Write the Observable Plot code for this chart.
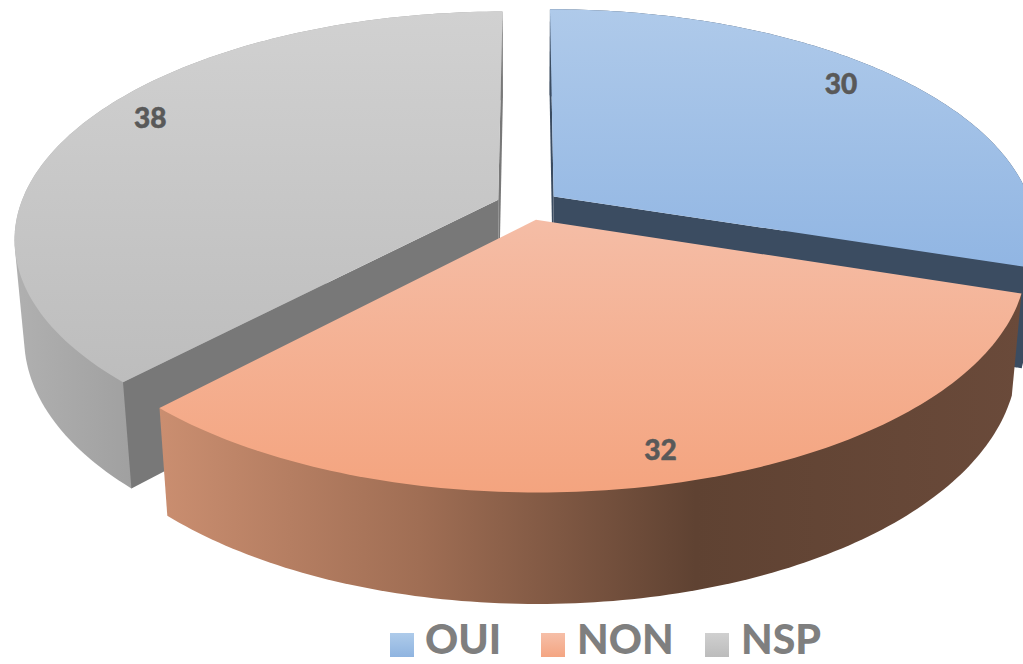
<!DOCTYPE html>
<html><head><meta charset="utf-8">
<script src="https://cdn.jsdelivr.net/npm/d3@7"></script>
<script src="https://cdn.jsdelivr.net/npm/@observablehq/plot@0.6"></script>
<style>
html,body{margin:0;padding:0;background:#fff;overflow:hidden}
#chart svg{display:block}
#legend{position:relative;height:54px;width:1023px;font:900 41px Lato,sans-serif;color:#7f7f7f}
#legend .sw{position:absolute;top:23px;width:24px;height:24px}
#legend .tx{position:absolute;top:4px;line-height:normal;white-space:nowrap}
</style></head><body>
<div id="chart"></div>
<div id="legend"></div>
<script>
// ---- data
const categories = ["OUI", "NON", "NSP"];
const values = [30, 32, 38];
const labelAngles = [49.7, 165.9, 297];
const labelRadii = [0.875, 0.892, 0.88];
const drawOrder = [0, 2, 1];
const swatchColors = [["#aecbea","#8fb4e0"],["#f6bfa8","#f4a582"],["#d0d0d0","#bcbcbc"]];
const innerWallColors = ["#3b4c61", "#5f4232", "#787878"];
const legendSwatchX = [390, 541, 705];
const legendTextX = [425, 577, 741];

// ---- 3D view of the disc
const W = 1023, H = 610;
const cx = 527.4, cy = 204.7, A = 478, B = 221.5, k = 0.168, m = 0.0187, depth = 99, explode = 0.067;
const rad = d => d * Math.PI / 180;
const total = d3.sum(values);
const ends = d3.cumsum(values).map(v => v / total * 360);
const slices = categories.map((name, i) => {
  const a0 = i ? ends[i - 1] : 0, a1 = ends[i], mid = (a0 + a1) / 2;
  return {i, name, value: values[i], a0, a1, ox: explode * Math.sin(rad(mid)), oy: -explode * Math.cos(rad(mid))};
});
function proj(s, angle, r, z) {
  const u = s.ox + r * Math.sin(rad(angle)), v = s.oy - r * Math.cos(rad(angle));
  const f = 1 / (1 - k * v + m * z);
  return {x: cx + A * u * f, y: cy + (B * v + depth * z) * f};
}
const arc = (s, z) => d3.range(0, 121).map(t => s.a0 + (s.a1 - s.a0) * t / 120).map(t => proj(s, t, 1, z));
const topFace = s => [proj(s, 0, 0, 0), ...arc(s, 0), proj(s, 0, 0, 0)];
// the extruded rim: its outline is the hull of both rims, so the silhouette is a straight tangent
const outerWall = s => {
  const hull = d3.polygonHull([...arc(s, 0), ...arc(s, 1)].map(p => [p.x, p.y]));
  return [...hull, hull[0]].map(([x, y]) => ({x, y}));
};
const innerWall = (s, a) => [proj(s, a, 0, 0), proj(s, a, 1, 0), proj(s, a, 1, 1), proj(s, a, 0, 1)];
// a cut face is seen only when it turns towards the viewer
const faces = (s, a) => {
  const q = innerWall(s, a);
  const c = (q[1].x - q[0].x) * (q[2].y - q[1].y) - (q[1].y - q[0].y) * (q[2].x - q[1].x);
  return a === s.a0 ? c < 0 : c > 0;
};

const poly = (pts, fill) => Plot.line(pts, {x: "x", y: "y", fill, stroke: "none"});
const marks = [];
marks.push(() => {
  const ns = "http://www.w3.org/2000/svg";
  const defs = document.createElementNS(ns, "defs");
  const grad = (id, x1, y1, x2, y2, stops) => {
    const g = document.createElementNS(ns, "linearGradient");
    g.setAttribute("id", id);
    g.setAttribute("gradientUnits", "userSpaceOnUse");
    Object.entries({x1, y1, x2, y2}).forEach(([a, b]) => g.setAttribute(a, b));
    stops.forEach(([o, c]) => {
      const st = document.createElementNS(ns, "stop");
      st.setAttribute("offset", o); st.setAttribute("stop-color", c); g.appendChild(st);
    });
    defs.appendChild(g);
  };
  grad("top0", 0, 8, 0, 300, [[0, "#afcaea"], [1, "#8db3e2"]]);
  grad("top1", 0, 219, 0, 492, [[0, "#f5bda6"], [1, "#f4a47f"]]);
  grad("top2", 0, 12, 0, 380, [[0, "#d1d1d1"], [1, "#bdbdbd"]]);
  grad("wall0", 0, 0, 1023, 0, [[0, "#3b4c61"], [1, "#3b4c61"]]);
  grad("wall1", 160, 0, 1023, 0, [[0, "#ca8e70"], [0.3, "#a06e54"], [0.62, "#5f4232"], [1, "#6a4a3a"]]);
  grad("wall2", 15, 0, 132, 0, [[0, "#b0b0b0"], [1, "#a0a0a0"]]);
  defs.setAttribute("aria-hidden", "true");
  return defs;
});
drawOrder.map(i => slices[i]).forEach(s => {
  marks.push(poly(outerWall(s), `url(#wall${s.i})`));
  [s.a0, s.a1].filter(a => faces(s, a)).forEach(a => marks.push(poly(innerWall(s, a), innerWallColors[s.i])));
  marks.push(poly(topFace(s), `url(#top${s.i})`));
});
const labels = slices.map(s => ({...proj(s, labelAngles[s.i], labelRadii[s.i], 0), value: s.value}));
marks.push(Plot.text(labels, {x: "x", y: "y", dy: 2, text: d => String(d.value), fill: "#595959", stroke: "#595959", strokeWidth: 0.5,
  fontSize: 28, fontWeight: 900, fontFamily: "Lato, sans-serif", textAnchor: "middle", lineAnchor: "middle"}));

document.getElementById("chart").append(Plot.plot({
  width: W, height: H, margin: 0,
  style: {background: "#fff", overflow: "hidden"},
  x: {domain: [0, W], range: [0, W], axis: null},
  y: {domain: [0, H], range: [0, H], axis: null},
  marks
}));

const legend = document.getElementById("legend");
categories.forEach((c, i) => {
  const sw = document.createElement("div");
  sw.className = "sw"; sw.style.left = legendSwatchX[i] + "px";
  sw.style.background = `linear-gradient(${swatchColors[i][0]},${swatchColors[i][1]})`;
  const tx = document.createElement("div");
  tx.className = "tx"; tx.style.left = legendTextX[i] + "px"; tx.textContent = c;
  legend.append(sw, tx);
});
</script>
</body></html>
